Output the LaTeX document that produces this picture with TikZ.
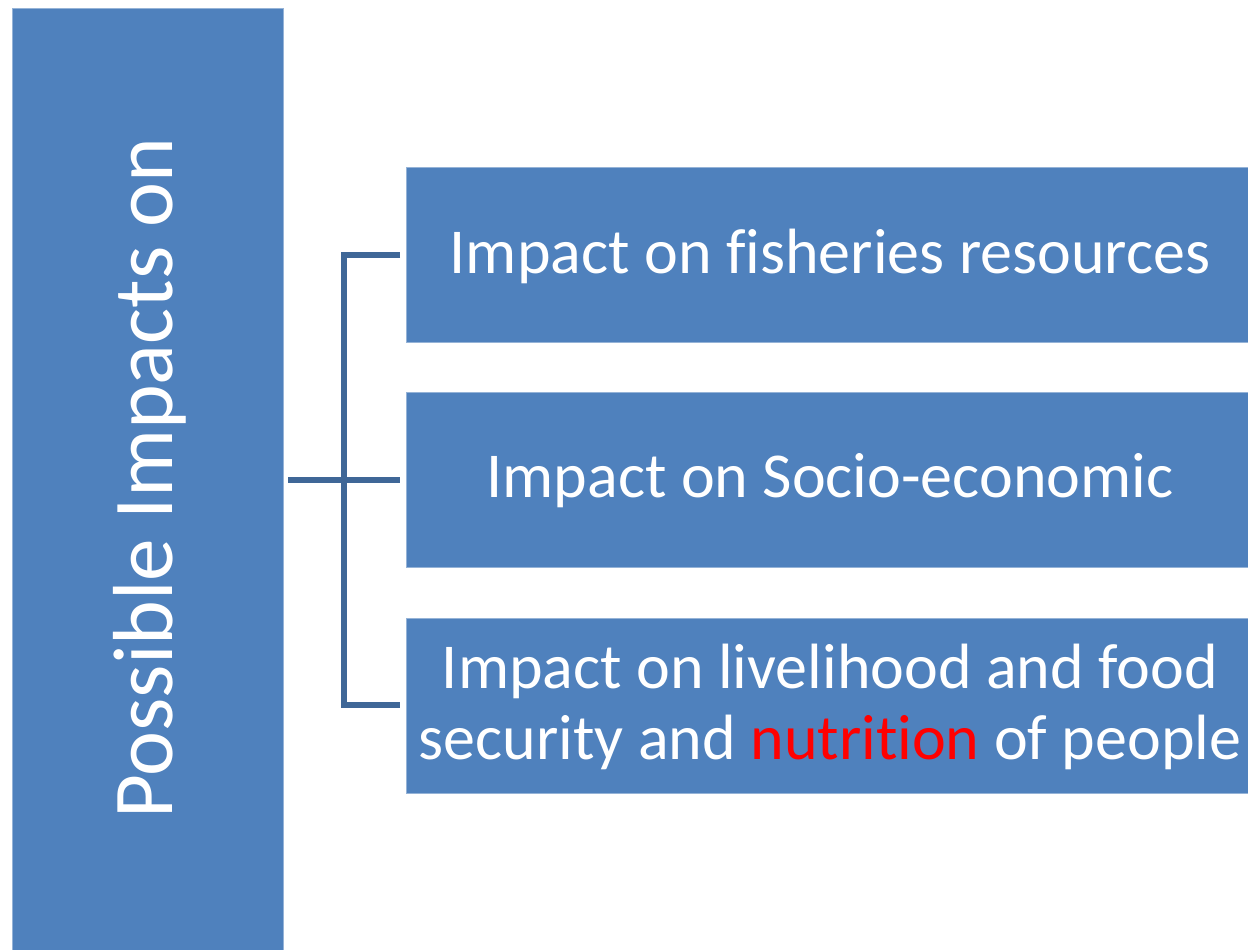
\documentclass[tikz,border=0pt]{standalone}
\usepackage{fontspec}
\setmainfont{Carlito}[Ligatures={NoCommon}]
\definecolor{boxblue}{HTML}{4F81BD}
\definecolor{linkblue}{HTML}{3F6797}
\begin{document}
\begin{tikzpicture}[x=0.5pt,y=-0.5pt,
  panel/.style={fill=boxblue,draw=boxblue!60!white,line width=0.4pt},
  itemtext/.style={text=white,font=\fontsize{32}{35.5}\selectfont,align=center,inner sep=0pt},
  link/.style={draw=linkblue,line width=2.6pt}]
\useasboundingbox (0,0) rectangle (1248,949);
% vertical title panel
\path[panel] (12,8) rectangle (283,960);
\node[text=white,font=\fontsize{42.6}{50}\selectfont,rotate=90,inner sep=0pt] (title) at (150,478) {Possible Impacts on};
% the three impact panels
\path[panel] (406,167) rectangle (1260,342);
\path[panel] (406,392) rectangle (1260,567);
\path[panel] (406,618) rectangle (1260,793);
\node[itemtext] (a) at (830,256) {Impact on fisheries resources};
\node[itemtext] (b) at (830,481) {Impact on Socio-economic};
\node[itemtext] (c) at (830,707) {Impact on livelihood and food\\security and \textcolor{red}{nutrition} of people};
% bracket connector
\coordinate (root) at (288,480);
\coordinate (spine) at (344,480);
\coordinate (ta) at (400,255);
\coordinate (tb) at (400,480);
\coordinate (tc) at (400,705);
\draw[link] (root) -- (tb);
\draw[link] (ta) -- (spine |- ta) -- (spine |- tc) -- (tc);
\end{tikzpicture}
\end{document}
